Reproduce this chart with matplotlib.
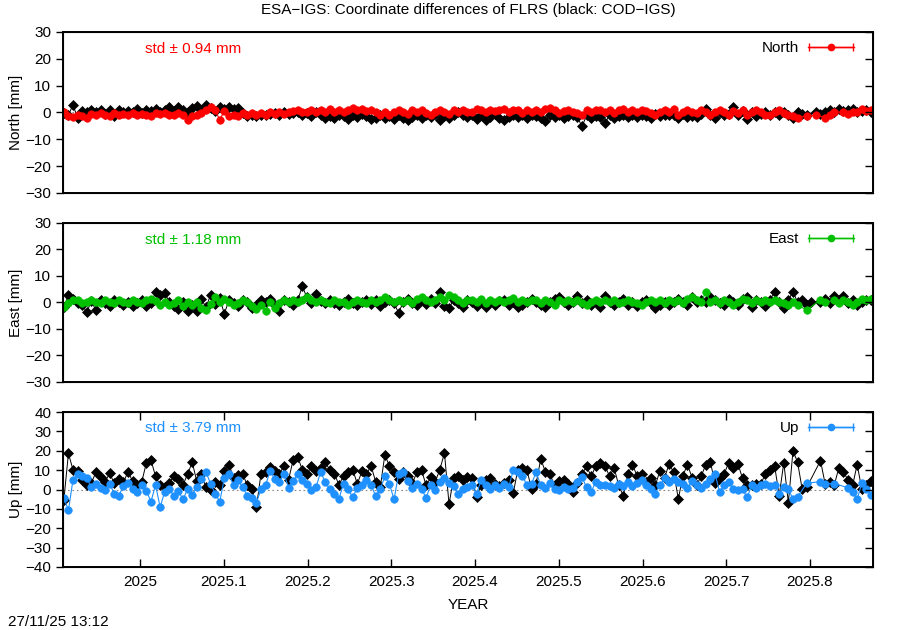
import numpy as np
import matplotlib.pyplot as plt
from matplotlib.container import ErrorbarContainer
from matplotlib.legend_handler import HandlerErrorbar

nan = np.nan

# epochs: one solution every 2 days, first epoch in decimal year
t0 = 2024.909
step_days = 2.0

# North differences [mm]  (COD-IGS black, ESA-IGS red)
north_cod = [
    -0.2, -0.9, 2.8, -2.1, 0.6, 0.3, 1.0, 0.2, 1.1, -0.4, 0.8, -1.3, 0.9, 0.1,
    0.7, 0.2, 1.2, -0.1, 0.9, 0.4, 1.3, 0.3, 0.8, 1.9, 0.6, 2.2, 1.1, 0.2, 1.7,
    2.4, 0.9, 2.7, 1.8, 0.6, 1.9, 1.2, 2.1, 1.4, 1.8, -0.3, -1.2, -0.8, -1.4, -0.9,
    -1.1, -0.6, -0.2, -1.0, 0.1, -0.7, -0.3, 0.2, -0.9, -0.2, -1.2, 0.3, -1.1, -2.0,
    -1.3, -2.2, -0.8, -1.5, -2.4, -1.0, -1.8, -0.7, -1.2, -2.6, -1.9, -0.9, -2.1, -1.4, -2.3,
    -0.8, -1.9, -2.8, -1.6, -0.9, -2.2, -1.1, -1.8, -0.7, -2.7, -1.2, -2.0, -0.9, 0.3, -1.0, -1.7,
    -1.1, -2.3, -0.9, -2.8, -1.6, -0.7, -1.9, -2.9, -1.8, -0.8, -1.6, -1.1, -2.2, -0.9,
    -1.2, -1.9, -3.1, -0.8, -1.7, -1.0, -2.1, -1.3, -0.9, -1.8, -5.2, -1.1, -2.0, -1.3, -1.8,
    -4.0, -1.0, -1.9, -1.2, -0.8, -1.7, -1.1, -1.6, -0.9, -1.2, -2.0, -0.7, -1.5, -1.1, -0.8,
    -1.0, -1.9, -0.6, -1.7, -1.2, -1.8, -0.7, 1.4, -0.8, -2.1, 0.2, -1.0, -0.6, 2.1,
    -0.9, 0.4, -2.6, 0.3, -1.2, -0.5, 0.2, -1.0, 0.1, -1.1, 0.3, -0.8, -1.9, 0.2, -0.6,
    -0.9, nan, 0.1, -0.7, 0.2, 1.0, 0.3, 1.2, 0.4, 0.9, 1.3, 0.2, 0.5, 1.0, 0.3,
]
north_esa = [
    0.1, -1.2, -1.8, -0.9, -1.3, -2.0, -0.4, -1.1, -0.3, -0.9, -1.2, -0.2, -0.8, -0.4,
    -0.9, -0.2, -1.1, -0.4, -0.8, -1.3, -0.3, -0.7, -0.2, -0.9, -1.1, -0.3, -1.0, -2.7, -1.2,
    -0.8, -0.2, 0.9, 1.9, 0.8, -2.8, 0.6, -1.2, -0.9, -1.4, -0.3, -1.0, -0.2, -0.9, -0.1,
    -0.8, 0.2, -0.6, 0.3, -0.5, 0.1, 0.4, 0.9, 0.2, 0.1, 1.1, 0.3, 0.8, 0.2,
    1.2, 0.3, 1.0, 0.1, 0.9, 1.6, 1.1, 1.3, 0.4, 1.1, 0.2, -0.8, 0.3, -0.9, 0.1,
    0.9, 0.2, -0.7, 1.0, 0.1, 0.8, -0.2, -0.9, 0.3, 1.1, 0.2, -0.4, 0.9, 0.1, 1.0, 0.3,
    0.3, 1.2, 0.8, 0.2, 1.1, 0.4, 0.9, 1.3, 0.2, 0.9, 1.0, -0.2, 0.8, 0.3,
    1.0, 0.1, 1.2, 1.8, 0.9, -0.1, 0.7, 1.1, 0.2, -0.3, -0.9, 0.8, 0.1, 1.0, 0.9,
    0.2, 1.1, -0.1, 0.9, 1.2, 0.3, 0.8, 0.1, 1.0, 0.7, -0.2, -1.1, 0.2, 1.1, 0.3,
    1.2, -0.8, 0.1, 0.9, 0.2, -0.3, 0.8, 0.2, -0.9, 0.3, 1.0, 0.1, -0.8, 0.4,
    -0.2, 1.1, -0.9, 0.2, 1.0, 0.1, -1.0, -0.8, 0.1, 0.9, -0.2, -1.1, -1.2, -1.9, nan,
    -1.3, nan, -1.0, nan, -1.9, -0.8, 0.1, nan, 0.2, -0.7, 0.3, 0.1, 1.2, 0.4, 0.8,
]

# East differences [mm]  (COD-IGS black, ESA-IGS green)
east_cod = [
    -1.8, 2.7, 1.2, -0.3, -1.1, -3.6, 0.4, -2.9, 0.8, -0.2, -1.3, 1.1, 0.1, -1.0,
    0.3, -1.2, -0.1, 0.9, -1.4, -0.3, 3.8, 2.9, 3.6, 0.2, -1.4, -2.3, 0.3, -3.2, -0.9,
    -3.1, 1.2, -1.8, 2.8, -0.7, 1.6, -4.3, 0.9, -0.2, -1.2, 0.8, 0.1, -2.1, -0.8, 1.1,
    0.2, 1.3, -0.9, -3.4, 0.9, 0.1, -1.1, 0.8, 6.1, 1.9, -0.2, 3.1, 0.7, -0.1,
    0.9, -0.3, -1.1, 0.2, 1.2, -0.2, -0.9, 0.3, 1.1, -0.4, 0.8, -1.2, 0.2, 1.0, -0.3,
    -3.9, 0.1, 1.2, -0.2, -1.1, 0.9, -0.4, 1.3, -0.2, 4.1, -1.3, -2.2, 1.0, -0.1, -1.9, 0.8,
    0.3, -1.2, 0.1, -1.9, 0.2, -0.9, 0.4, 1.1, -1.0, 0.2, -1.8, -0.8, 0.1, 1.2,
    0.3, -1.1, -1.7, 0.2, 1.3, 2.2, 0.1, -0.9, 0.2, 2.4, -0.1, 1.1, -0.8, 0.3, -1.6,
    2.3, 0.1, -0.9, 0.2, 1.2, -1.0, 0.3, -1.2, 0.2, 1.1, -0.1, -2.0, -1.1, 0.3, -0.8,
    0.1, 1.2, 0.2, -0.9, 2.0, 0.3, 1.1, 0.2, 2.1, 0.9, -0.2, -1.1, 1.3, 0.1,
    -1.0, 1.2, 2.2, -1.8, 0.9, 0.1, -1.2, 1.0, 4.0, 0.2, -2.1, 0.9, 4.1, 0.1, 1.0,
    -1.1, 0.2, nan, 0.1, 1.2, -0.2, 2.4, 0.8, 2.6, -0.1, 1.1, -1.0, 0.2, 1.0, 0.9,
]
east_esa = [
    -1.6, -0.2, 1.1, 0.9, -0.1, 0.3, 1.0, 0.1, -0.3, 0.9, 0.2, -0.2, 1.0, 0.3,
    -0.1, 0.8, 0.2, -0.3, 0.9, 1.2, 0.4, -0.8, 0.1, -1.1, -0.2, 0.8, -1.3, 0.2, -0.9,
    0.3, -2.1, -3.0, -0.4, 2.2, 0.1, 1.3, 0.2, -1.0, -0.1, 0.8, 0.2, -1.2, -2.4, -0.8,
    -3.1, 0.3, -2.2, -0.1, 1.0, 0.2, 0.9, 0.1, 0.8, 1.9, 0.9, 0.1, 1.1, 0.3,
    -0.1, 0.9, 0.2, 0.1, -0.8, 0.3, 1.0, 0.2, -0.2, 0.8, 0.1, 1.1, 2.1, 1.0, 0.2,
    1.1, 0.2, 0.9, -0.1, 1.2, 2.0, 0.8, 0.1, 0.9, 2.2, 1.1, 2.8, 1.9, 0.8, -0.2, 1.0,
    1.0, 0.2, 1.3, -0.1, 0.9, 0.3, 1.1, 0.2, 0.9, 1.8, 0.1, 1.0, 0.2, 1.1,
    0.8, -0.1, 1.0, 0.3, -0.9, 0.8, 0.1, 1.1, 0.2, 0.9, -0.1, -1.0, 0.1, 1.0, 0.3,
    1.1, 0.2, 0.9, -0.1, 0.3, 1.1, 0.2, -0.1, -0.9, 0.2, 1.0, 0.1, 0.9, -0.2, 1.1,
    0.2, 0.9, -0.1, 1.2, 1.9, 0.8, 0.1, 3.9, 0.2, 1.1, -0.1, 1.0, 0.2, -0.9,
    0.1, 1.2, 0.9, -0.1, 1.0, 0.2, 0.9, 0.3, 1.0, 0.1, -0.2, -1.1, 0.1, -0.9, nan,
    -2.9, nan, nan, 1.0, 0.1, nan, 0.8, -0.1, 1.1, 0.3, -0.9, 0.2, 1.3, 0.9, 1.2,
]

# Up differences [mm]  (COD-IGS black, ESA-IGS blue)
up_cod = [
    -5.5, 18.6, 10.2, 9.8, 5.1, 2.3, 3.4, 8.9, 6.2, 4.1, 8.3, 3.2, 5.4, 3.8,
    9.1, 4.3, 2.2, 4.0, 13.8, 15.1, 6.9, 2.1, 1.2, 3.3, 7.1, 5.2, 2.4, 8.1, 14.0,
    4.2, 7.8, 1.1, -0.2, 3.9, 2.3, 9.8, 12.9, 6.1, 7.3, 8.0, 2.2, 0.1, -8.8, 8.2,
    9.1, 11.8, 9.7, 8.2, 12.1, 5.0, 15.2, 16.8, 10.2, 7.9, 11.9, 9.8, 11.2, 14.1,
    10.1, 8.2, 2.3, 7.1, 9.2, 10.1, 3.0, 9.3, 8.1, 12.2, 4.0, 1.1, 17.9, 12.1, 9.2,
    5.2, 9.1, 7.0, 3.2, 9.0, 10.1, 2.1, 6.2, 4.1, 10.3, 18.9, -7.6, 6.1, 7.2, 5.0, 6.3,
    6.1, -3.8, 2.2, 5.1, 6.0, 2.8, 1.9, 3.2, 5.1, -1.8, 10.2, 11.1, 9.9, 0.2,
    3.1, 15.8, 9.2, 7.9, 2.1, 4.2, 4.9, 3.1, -1.1, 3.2, 8.1, 11.9, 6.8, 12.2, 13.8,
    12.1, 6.9, 11.2, 2.1, -3.2, 8.1, 12.8, 7.1, 8.2, 3.9, 6.1, 2.2, 9.8, 6.1, 13.2,
    8.9, -4.9, 7.2, 12.9, 6.1, 2.2, 7.1, 12.8, 14.1, 3.2, 5.9, 8.2, 13.8, 11.1,
    13.2, 5.8, 2.1, 2.2, 3.1, 2.9, 8.2, 9.9, 12.1, -3.1, 13.8, -6.8, 19.9, 14.2, 0.2,
    1.1, nan, nan, 14.9, 3.1, 3.9, 2.2, 11.2, 8.9, 5.1, 2.1, 12.9, 0.2, 2.1, 4.2,
]
up_esa = [
    -4.2, -10.8, 5.1, 8.2, 7.0, 5.8, 1.2, 2.9, 0.8, -0.2, 3.1, -2.3, -3.1, 1.9,
    3.2, 0.1, -1.2, 2.1, -0.8, -6.2, 2.3, -9.1, -1.1, 0.2, -3.2, -0.9, -5.1, 0.3, -2.8,
    1.2, 5.3, 8.9, 3.1, -2.2, -6.3, 5.8, 7.9, 2.1, 4.8, 1.2, -3.1, -4.2, -6.8, 0.2,
    2.1, 9.8, 5.2, 3.9, 8.1, 1.0, 4.2, 8.2, 4.9, 3.1, -0.2, 1.2, 9.1, 3.8,
    0.1, -2.2, -4.8, 3.1, 0.2, -4.1, 1.0, 2.2, 4.9, 2.1, -3.2, 0.1, 6.8, 2.9, -5.1,
    7.8, 9.1, 4.2, 1.0, 3.1, 0.2, -4.2, 2.1, -0.2, 4.1, 5.9, 3.2, 1.8, -2.1, 0.1, 1.2,
    2.1, -2.2, 4.8, 2.1, 0.2, 2.3, 0.9, 3.1, 1.2, 9.9, 8.8, 7.1, 2.2, 3.0,
    8.9, 2.1, 1.0, 3.2, 0.1, -0.2, 1.2, 0.1, 0.9, 4.1, 6.2, 1.1, -1.2, 3.9, 2.1,
    2.2, 1.9, 0.8, 3.1, 2.0, 4.1, 1.9, 3.2, 5.1, 2.2, 0.1, -2.1, 2.2, 5.9, 4.1,
    5.2, 3.9, 3.1, 0.9, 4.2, 2.1, 1.0, 3.1, 5.2, 8.1, -1.2, 2.1, 3.8, 0.2,
    -0.1, 0.2, -4.1, 2.1, 0.9, 2.2, 3.1, 1.9, 2.1, -2.2, 1.1, 0.1, -4.9, -3.8, nan,
    3.2, nan, nan, 4.1, 2.9, nan, 3.1, nan, nan, 0.9, -1.2, -5.1, 3.2, 0.1, -2.8,
]

components = ["North", "East", "Up"]
std_values = [0.94, 1.18, 3.79]
colors = ["#ff0000", "#00c000", "#1e90ff"]
y_limits = [(-30, 30), (-30, 30), (-40, 40)]
x_ticks = [2025.0, 2025.1, 2025.2, 2025.3, 2025.4, 2025.5, 2025.6, 2025.7, 2025.8]
x_tick_labels = ["2025", "2025.1", "2025.2", "2025.3", "2025.4", "2025.5", "2025.6", "2025.7", "2025.8"]
x_limits = (2024.908, 2025.8752)

plt.rcParams['font.family'] = ['Liberation Sans', 'DejaVu Sans']
plt.rcParams['font.size'] = 11

fig = plt.figure(figsize=(9, 6.3), dpi=100)

# panel rectangles in figure fractions
rects = [[0.07, 0.6937, 0.9, 0.2556],
         [0.07, 0.3937, 0.9, 0.2524],
         [0.07, 0.1, 0.9, 0.246]]

series = [(north_cod, north_esa), (east_cod, east_esa), (up_cod, up_esa)]


def plot_series(ax, vals, color, marker, ms, lw):
    y = np.asarray(vals, dtype=float)
    x = t0 + np.arange(len(y)) * step_days / 365.25
    ok = ~np.isnan(y)
    ax.plot(x[ok], y[ok], color=color, lw=lw, marker=marker, ms=ms,
            mfc=color, mec=color, mew=0.5)


for i, name in enumerate(components):
    ax = fig.add_axes(rects[i])
    cod, esa = series[i]
    color = colors[i]
    lo, hi = y_limits[i]

    ax.axhline(0, color="#888888", lw=0.8, ls=(0, (1.5, 2.5)), zorder=0)
    plot_series(ax, cod, "black", "D", 5.0, 0.7)
    plot_series(ax, esa, color, "o", 5.4, 0.8)

    ax.set_xlim(*x_limits)
    ax.set_ylim(lo, hi)
    ax.set_yticks(np.arange(lo, hi + 1, 10))
    ax.tick_params(axis='y', direction='out', length=5, width=1, right=False)
    ax.set_ylabel(f"{name} [mm]")
    ax.yaxis.set_label_coords(-0.05, 0.5)
    for sp in ax.spines.values():
        sp.set_linewidth(1.4)

    # mirrored ticks on the right side, pointing inwards
    ax_r = ax.twinx()
    ax_r.set_ylim(lo, hi)
    ax_r.set_yticks(np.arange(lo, hi + 1, 10))
    ax_r.tick_params(axis='y', direction='in', length=6, width=1, labelright=False)

    if i < 2:
        ax.tick_params(axis='x', bottom=False, top=False, labelbottom=False)
    else:
        ax.set_xticks(x_ticks)
        ax.set_xticklabels(x_tick_labels)
        ax.tick_params(axis='x', direction='in', length=6, width=1, top=True, pad=6)
        ax.set_xlabel("YEAR", labelpad=6)

    ax.text(0.101, 0.895, f"std \u00b1 {std_values[i]:.2f} mm", color=color,
            transform=ax.transAxes, va='center', ha='left')

    key = ax.errorbar([nan], [nan], xerr=[1.0], color=color, marker='o', ms=4.5,
                      lw=1, elinewidth=1, capsize=3, capthick=1)
    ax.legend([key], [name], loc='upper right', bbox_to_anchor=(0.99, 1.01),
              frameon=False, markerfirst=False,
              handlelength=3.0, borderaxespad=0.3, handletextpad=0.6,
              handler_map={ErrorbarContainer: HandlerErrorbar(xerr_size=1.45, numpoints=1)})

fig.text(0.52, 0.984, "ESA\u2212IGS: Coordinate differences of FLRS (black: COD\u2212IGS)",
         ha='center', va='center')
fig.text(0.009, 0.012, "27/11/25 13:12", ha='left', va='center')

fig.savefig("out.png", dpi=100)
